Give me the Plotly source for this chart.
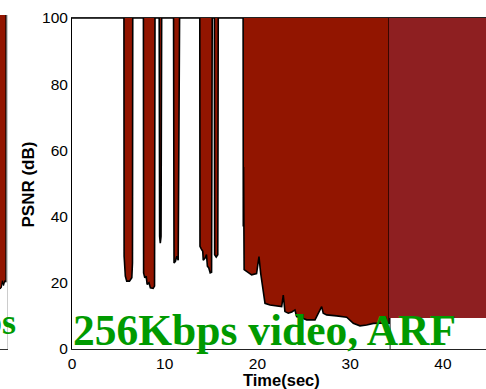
import plotly.graph_objects as go

# PSNR trace over time; 100 dB means the frame decoded without loss
time_sec = [0, 5.60, 5.62, 5.75, 5.90, 6.20, 6.45, 6.52, 6.55,
            7.70, 7.72, 7.85, 8.00, 8.10, 8.30, 8.45, 8.75, 8.90, 8.95,
            9.40, 9.45, 9.52, 9.60, 9.67,
            10.95, 11.00, 11.15, 11.30, 11.45, 11.60,
            13.78, 13.80, 13.95, 14.10, 14.15, 14.35, 14.50, 14.60, 14.75, 14.90, 15.05, 15.12,
            15.35, 15.38, 15.55, 15.72, 15.77,
            18.45, 18.47, 18.50, 18.56, 18.80, 19.37, 19.90, 20.16, 20.35, 20.63, 20.81,
            21.35, 22.07, 22.61, 22.78, 22.96, 23.32, 23.70, 24.04, 24.22, 24.94, 25.31,
            26.20, 26.56, 26.92, 27.09, 27.46, 28.54, 29.62, 30.33, 31.05, 31.77, 32.49,
            33.21, 34.07, 34.20, 34.20]
psnr_db = [100, 100, 28, 22, 20.5, 20.5, 21.5, 26, 100,
           100, 23, 21.5, 22, 19.5, 20, 18.5, 18.3, 19, 100,
           100, 34, 32, 34, 100,
           100, 26, 26.5, 28, 26.8, 100,
           100, 31, 30.2, 29.5, 26.8, 27.5, 28.5, 25, 24.5, 23, 23.2, 100,
           100, 28.5, 27.8, 28.5, 100,
           100, 37, 55, 24, 23.5, 22.4, 22.8, 27.9, 22.8, 16.8, 13.8,
           13.3, 13.0, 12.8, 16.3, 11.3, 10.8, 11.2, 11.8, 9.8, 9.2, 8.8,
           8.8, 10.8, 12.8, 10.8, 10.3, 10.0, 9.6, 7.75, 7.0, 7.25, 7.75,
           7.8, 7.75, 7.8, 100]

# Neighbouring panel (only its right edge shows)
side_x = [0, 0.20, 0.35, 0.50, 0.70, 0.85, 0.86]
side_psnr = [18, 18.5, 20.5, 19, 20.5, 20, 100]

x_ticks = [0, 10, 20, 30, 40]
y_ticks = [0, 20, 40, 60, 80, 100]
title_text = "256Kbps video, ARF"
side_title = "Kbps"
x_title = "Time(sec)"
y_title = "PSNR (dB)"

W, H = 486, 389
ML, MT, MB = 0, 15, 40
plot_h = H - MT - MB
fill_red = "#921500"
green = "#009a00"
sans = "Liberation Sans, Arial"
serif = "Liberation Serif, Times New Roman"


def px_x(p):
    return p / W


def px_y(p):
    return (H - MB - p) / plot_h


fig = go.Figure()

# Upper bound of the filled band (PSNR ceiling)
fig.add_trace(go.Scatter(x=[time_sec[0], time_sec[-1]], y=[100, 100], mode="lines",
                         line=dict(width=0), showlegend=False, hoverinfo="skip"))
fig.add_trace(go.Scatter(x=time_sec, y=psnr_db, mode="lines", fill="tonexty",
                         fillcolor=fill_red, line=dict(color="black", width=1.6),
                         showlegend=False))

fig.add_trace(go.Scatter(x=[side_x[0], side_x[-1]], y=[100, 100], mode="lines",
                         line=dict(width=0), showlegend=False, hoverinfo="skip",
                         xaxis="x2", yaxis="y2"))
fig.add_trace(go.Scatter(x=side_x, y=side_psnr, mode="lines", fill="tonexty",
                         fillcolor=fill_red, line=dict(color="black", width=1.2),
                         showlegend=False, xaxis="x2", yaxis="y2"))

tick_font = dict(family=sans, size=15.5, color="black")

fig.update_layout(
    width=W, height=H,
    margin=dict(l=ML, r=0, t=MT, b=MB),
    paper_bgcolor="white", plot_bgcolor="white",
    xaxis=dict(domain=[72 / W, 1], range=[0, 44.64], tickvals=x_ticks,
               showline=True, linecolor="#222", linewidth=1, mirror=True,
               ticks="", showgrid=False, zeroline=False, tickfont=tick_font,
               automargin=False),
    yaxis=dict(domain=[0, (349 - 18) / plot_h], range=[0, 100], tickvals=y_ticks,
               showline=True, linecolor="black", linewidth=1,
               ticks="", showgrid=False, zeroline=False, tickfont=tick_font,
               automargin=False),
    xaxis2=dict(domain=[0, 7 / W], range=[0, 1], anchor="y2", showline=True,
                linecolor="#333", showticklabels=False, ticks="", showgrid=False,
                zeroline=False),
    yaxis2=dict(domain=[0, 1], range=[0, 100], anchor="x2", side="right",
                showline=True, linecolor="#cccccc", showticklabels=False, ticks="",
                showgrid=False, zeroline=False),
)

# Overlapping red block and its edge on the right
fig.add_shape(type="rect", xref="x", yref="y", x0=34.18, x1=46, y0=9.4, y1=101,
              fillcolor="#8e1f21", line=dict(width=0), layer="above")
fig.add_shape(type="line", xref="x", yref="y", x0=34.3, x1=34.3, y0=0, y1=9.4,
              line=dict(color="#222", width=1), layer="above")

# Axis titles
fig.add_annotation(text="<b>" + x_title + "</b>", xref="paper", yref="paper",
                   x=px_x(281), y=px_y(380), xanchor="center", yanchor="middle",
                   showarrow=False, borderpad=0,
                   font=dict(family=sans, size=16.5, color="black"))
fig.add_annotation(text="<b>" + y_title + "</b>", xref="paper", yref="paper",
                   x=px_x(27.5), y=px_y(185), xanchor="center", yanchor="middle",
                   textangle=-90, showarrow=False,
                   font=dict(family=sans, size=17, color="black"))

# Panel captions
fig.add_annotation(text="<b>" + title_text + "</b>", xref="paper", yref="paper",
                   x=px_x(71), y=px_y(330), xanchor="left", yanchor="middle",
                   showarrow=False, font=dict(family=serif, size=43.5, color=green))
fig.add_annotation(text="<b>" + side_title + "</b>", xref="paper", yref="paper",
                   x=px_x(18), y=px_y(322), xanchor="right", yanchor="middle",
                   showarrow=False, font=dict(family=serif, size=36, color=green))

fig.write_html("out.html")
